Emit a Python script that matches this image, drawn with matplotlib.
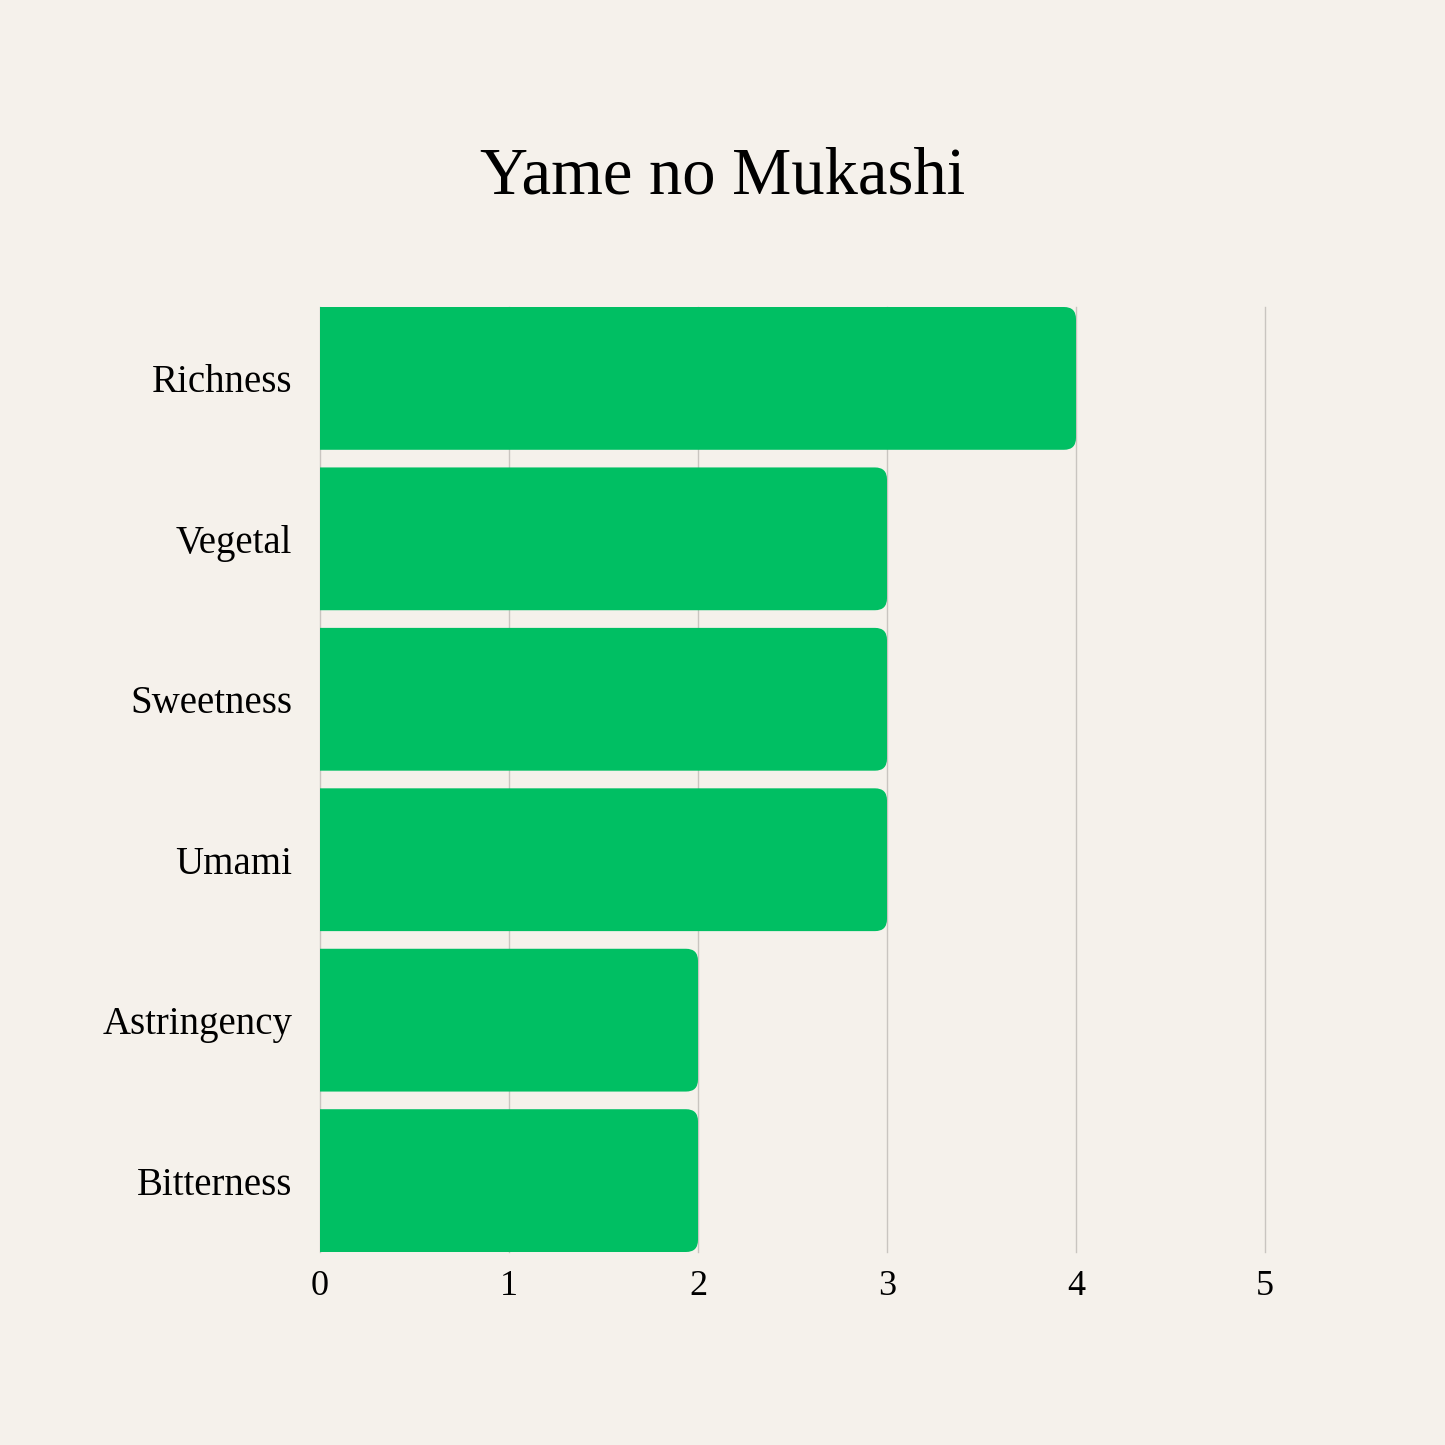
import matplotlib.pyplot as plt
from matplotlib.patches import PathPatch
from matplotlib.path import Path

categories = ["Richness", "Vegetal", "Sweetness", "Umami", "Astringency", "Bitterness"]
scores = [4, 3, 3, 3, 2, 2]
ticks = [0, 1, 2, 3, 4, 5]

bg = "#F5F1EB"
green = "#00BF63"

plt.rcParams['font.family'] = ['Liberation Serif', 'DejaVu Serif']

fig = plt.figure(figsize=(14.45, 14.45), dpi=100, facecolor=bg)
W = H = 1445
ax = fig.add_axes([320 / W, 1 - 1252 / H, 945 / W, 945 / H])
ax.set_facecolor(bg)

bar_h = 0.89
ax.set_xlim(0, 5)
ax.set_ylim(len(categories) - 1 + bar_h / 2, -bar_h / 2)

# px per data unit, so the right corners stay round
px_x = 945 / 5
px_y = 945 / (len(categories) - 1 + bar_h)
rx = 12 / px_x
ry = 12 / px_y


def bar_path(x1, y0, y1):
    verts = [(0, y0), (x1 - rx, y0), (x1, y0), (x1, y0 + ry),
             (x1, y1 - ry), (x1, y1), (x1 - rx, y1), (0, y1), (0, y0)]
    codes = [Path.MOVETO, Path.LINETO, Path.CURVE3, Path.CURVE3,
             Path.LINETO, Path.CURVE3, Path.CURVE3, Path.LINETO, Path.CLOSEPOLY]
    return Path(verts, codes)


for i, v in enumerate(scores):
    ax.add_patch(PathPatch(bar_path(v, i - bar_h / 2, i + bar_h / 2),
                           fc=green, ec="none", zorder=2))

for t in ticks:
    ax.axvline(t, color="#C9C5C0", lw=1, zorder=1, clip_on=False)

ax.set_xticks(ticks)
ax.set_xticklabels([str(t) for t in ticks], fontsize=26)
ax.set_yticks(range(len(categories)))
ax.set_yticklabels(categories, fontsize=28)
ax.tick_params(axis='both', length=0)
ax.tick_params(axis='x', pad=13)
ax.tick_params(axis='y', pad=20)
for s in ax.spines.values():
    s.set_visible(False)

fig.text(0.5, 1 - 177 / H, "Yame no Mukashi", ha='center', va='center', fontsize=48)

fig.savefig("out.png", dpi=100, facecolor=bg)
